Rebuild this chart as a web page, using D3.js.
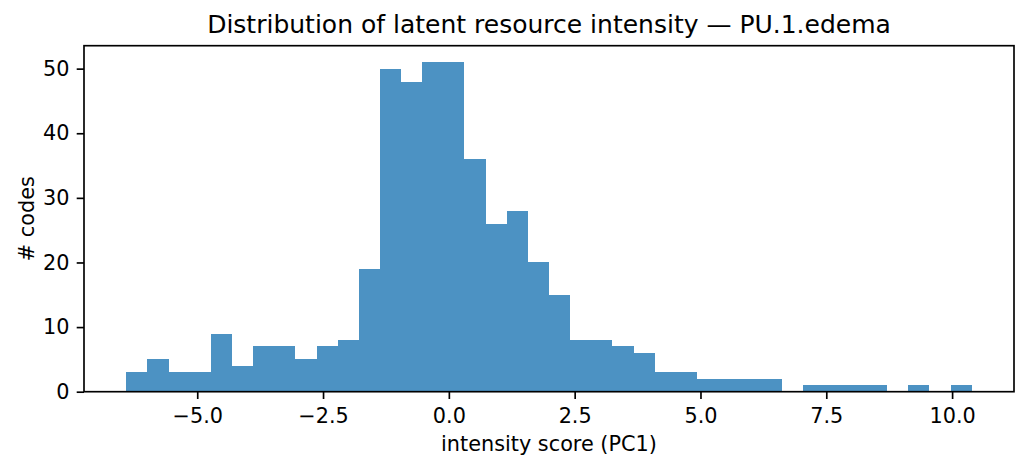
<!DOCTYPE html>
<html>
<head>
<meta charset="utf-8">
<script src="https://cdn.jsdelivr.net/npm/d3@7"></script>
<style>
  html, body { margin: 0; padding: 0; background: #fff; }
  svg { display: block; }
  text { font-family: "DejaVu Sans", sans-serif; fill: #000; }
</style>
</head>
<body>
<svg id="chart" width="1029" height="470"></svg>
<script>
// ---- data ----
const binStart = -6.41;
const binEnd = 10.39;
const counts = [3, 5, 3, 3, 9, 4, 7, 7, 5, 7,
                8, 19, 50, 48, 51, 51, 36, 26, 28, 20,
                15, 8, 8, 7, 6, 3, 3, 2, 2, 2,
                2, 0, 1, 1, 1, 1, 0, 1, 0, 1];
const xTicks = [-5, -2.5, 0, 2.5, 5, 7.5, 10];
const yTicks = [0, 10, 20, 30, 40, 50];
const titleText = "Distribution of latent resource intensity \u2014 PU.1.edema";
const xLabelText = "intensity score (PC1)";
const yLabelText = "# codes";

// ---- layout ----
const mLeft = 84, mRight = 1014, mTop = 45.7, mBottom = 391.7;
const svg = d3.select("#chart");

const binW = (binEnd - binStart) / counts.length;
const bins = counts.map((c, i) => ({x0: binStart + i * binW, x1: binStart + (i + 1) * binW, n: c}));

const span = binEnd - binStart;
const x = d3.scaleLinear()
  .domain([binStart - 0.05 * span, binEnd + 0.05 * span])
  .range([mLeft, mRight]);
const yMax = d3.max(counts) * 1.05;
const y = d3.scaleLinear().domain([0, yMax]).range([mBottom, mTop]);

// bars
svg.append("g").selectAll("rect")
  .data(bins.filter(d => d.n > 0))
  .join("rect")
  .attr("x", d => x(d.x0))
  .attr("width", d => x(d.x1) - x(d.x0))
  .attr("y", d => y(d.n))
  .attr("height", d => y(0) - y(d.n))
  .attr("fill", "#1f77b4")
  .attr("fill-opacity", 0.8)
  .attr("shape-rendering", "crispEdges");

const fmtX = d3.format(".1f");
const tickFont = 20.8;
// x axis
const gx = svg.append("g")
  .attr("transform", `translate(0,${mBottom})`)
  .call(d3.axisBottom(x).tickValues(xTicks).tickFormat(fmtX).tickSize(7.3).tickPadding(8.8));
// y axis
const gy = svg.append("g")
  .attr("transform", `translate(${mLeft},0)`)
  .call(d3.axisLeft(y).tickValues(yTicks).tickFormat(d3.format("d")).tickSize(7.3).tickPadding(7.3));

[gx, gy].forEach(g => {
  g.select(".domain").remove();
  g.selectAll(".tick line").attr("stroke", "#000").attr("stroke-width", 1.67);
  g.selectAll(".tick text").attr("font-size", tickFont).attr("font-family", "DejaVu Sans").attr("fill", "#000");
});

// frame
svg.append("rect")
  .attr("x", mLeft).attr("y", mTop)
  .attr("width", mRight - mLeft).attr("height", mBottom - mTop)
  .attr("fill", "none").attr("stroke", "#000").attr("stroke-width", 1.67);

// title and labels
svg.append("text")
  .attr("x", (mLeft + mRight) / 2).attr("y", 33.2)
  .attr("text-anchor", "middle").attr("font-size", 25)
  .text(titleText);
svg.append("text")
  .attr("x", (mLeft + mRight) / 2).attr("y", 451.3)
  .attr("text-anchor", "middle").attr("font-size", tickFont)
  .text(xLabelText);
svg.append("text")
  .attr("transform", `translate(34,${(mTop + mBottom) / 2}) rotate(-90)`)
  .attr("text-anchor", "middle").attr("font-size", tickFont)
  .text(yLabelText);
</script>
</body>
</html>
